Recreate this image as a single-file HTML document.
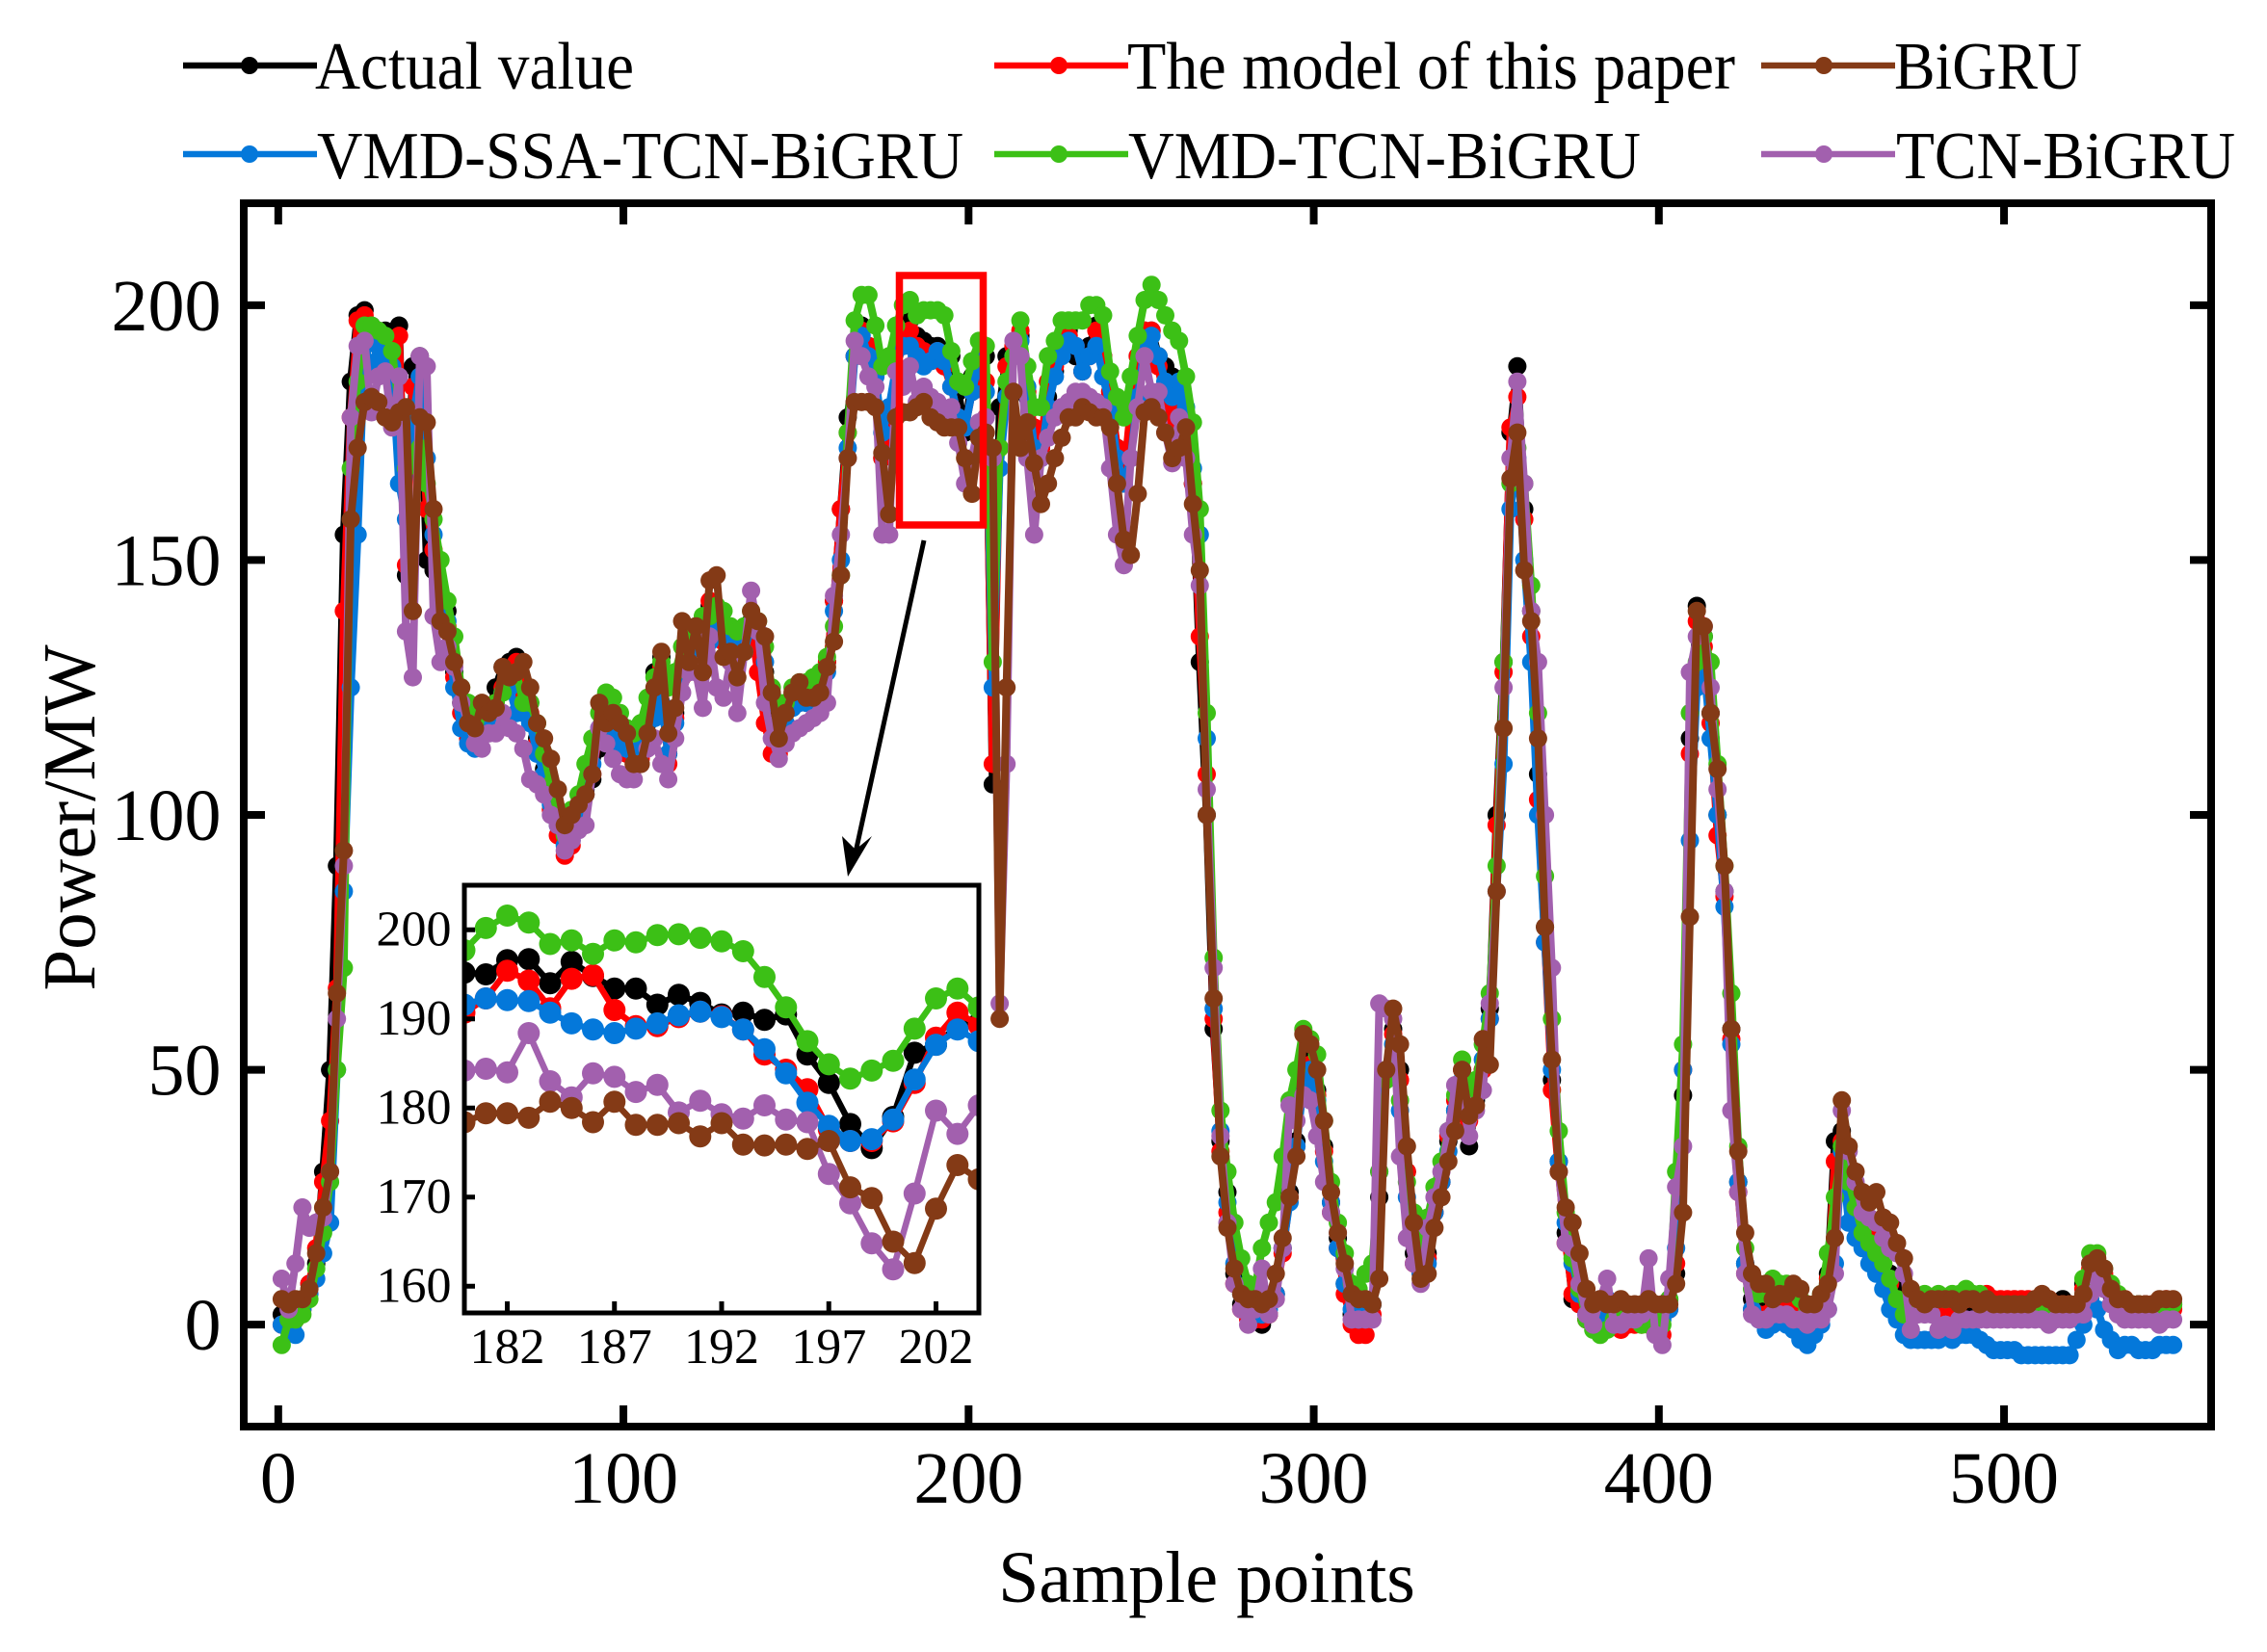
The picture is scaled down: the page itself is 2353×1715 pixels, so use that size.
<!DOCTYPE html>
<html>
<head>
<meta charset="utf-8">
<title>Power forecast comparison chart</title>
<style>
html,body{margin:0;padding:0;background:#fff;width:2353px;height:1715px;overflow:hidden}
svg{display:block}
text{font-family:"Liberation Serif",serif;fill:#000}
.leg{font-size:65px}
</style>
</head>
<body>
<svg id="chart" xmlns="http://www.w3.org/2000/svg" width="2353" height="1715" viewBox="0 0 2353 1715">
  <defs>
    <clipPath id="main-clip"><rect x="253" y="211" width="2042" height="1270"/></clipPath>
    <clipPath id="inset-clip"><rect x="482" y="919" width="534" height="444"/></clipPath>
  </defs>
  <rect x="0" y="0" width="2353" height="1715" fill="#fff"/>
  <g id="main-marks" clip-path="url(#main-clip)"></g>
  <rect x="253" y="211" width="2042" height="1270" fill="none" stroke="#000" stroke-width="8"/>
  <g id="main-axes"></g>
  <text font-size="77" text-anchor="middle" transform="translate(98,849) rotate(-90)">Power/MW</text>
  <text font-size="76" text-anchor="middle" x="1252.5" y="1663">Sample points</text>

  <rect x="933.5" y="286" width="87" height="259" fill="none" stroke="#ff0000" stroke-width="7.5"/>
  <line x1="959" y1="561" x2="888" y2="885" stroke="#000" stroke-width="5"/>
  <polygon points="880,910 874,868 888,882 905,868" fill="#000"/>

  <rect x="482" y="919" width="534" height="444" fill="#fff"/>
  <g id="inset-marks" clip-path="url(#inset-clip)"></g>
  <rect x="482" y="919" width="534" height="444" fill="none" stroke="#000" stroke-width="5"/>
  <g id="inset-axes"></g>

  <g>
    <g>
      <line x1="190" y1="68" x2="329" y2="68" stroke="#000000" stroke-width="6.5"/><circle cx="259" cy="68" r="9" fill="#000000"/>
      <text class="leg" textLength="331" lengthAdjust="spacingAndGlyphs" transform="translate(327,92) scale(1,1.07)">Actual value</text>
    </g>
    <g>
      <line x1="190" y1="160" x2="329" y2="160" stroke="#0478DA" stroke-width="6.5"/><circle cx="259" cy="160" r="9" fill="#0478DA"/>
      <text class="leg" textLength="671" lengthAdjust="spacingAndGlyphs" transform="translate(329,185) scale(1,1.07)">VMD-SSA-TCN-BiGRU</text>
    </g>
    <g>
      <line x1="1032" y1="68" x2="1171" y2="68" stroke="#ff0000" stroke-width="6.5"/><circle cx="1099" cy="68" r="9" fill="#ff0000"/>
      <text class="leg" textLength="631" lengthAdjust="spacingAndGlyphs" transform="translate(1170,92) scale(1,1.07)">The model of this paper</text>
    </g>
    <g>
      <line x1="1032" y1="160" x2="1171" y2="160" stroke="#3CC016" stroke-width="6.5"/><circle cx="1099" cy="160" r="9" fill="#3CC016"/>
      <text class="leg" textLength="532" lengthAdjust="spacingAndGlyphs" transform="translate(1171,185) scale(1,1.07)">VMD-TCN-BiGRU</text>
    </g>
    <g>
      <line x1="1828" y1="68" x2="1967" y2="68" stroke="#843A16" stroke-width="6.5"/><circle cx="1893" cy="68" r="9" fill="#843A16"/>
      <text class="leg" textLength="195" lengthAdjust="spacingAndGlyphs" transform="translate(1966,92) scale(1,1.07)">BiGRU</text>
    </g>
    <g>
      <line x1="1828" y1="160" x2="1967" y2="160" stroke="#A260AE" stroke-width="6.5"/><circle cx="1893" cy="160" r="9" fill="#A260AE"/>
      <text class="leg" textLength="352" lengthAdjust="spacingAndGlyphs" transform="translate(1968,185) scale(1,1.07)">TCN-BiGRU</text>
    </g>
  </g>
</svg>
<script>
// Main chart: readings at samples 1,3,5,...,549
const mainFirstSample = 1;
const mainSampleStep = 2;
const mainXTicks = [0, 100, 200, 300, 400, 500];
const mainYTicks = [0, 50, 100, 150, 200];
const actualValue = [
2,1,2,5,8,12,30,50,90,155,
185,198,199,196,195,195,194,196,147,188,
190,150,148,142,140,128,122,117,116,118,
120,125,129,130,131,125,122,115,109,105,
99,96,97,102,105,107,113,118,118,115,
112,111,112,118,128,131,112,120,127,132,
135,134,141,137,135,134,132,135,138,136,
128,120,117,121,123,123,123,124,126,130,
142,160,178,190,196,192,188,170,172,188,
195,197,194,193,192,192,191,190,183,175,
186,189,190,106,180,190,190,194,182,175,
172,182,187,192,195,190,187,192,196,190,
182,172,165,178,190,195,195,190,188,186,
182,178,165,130,100,58,36,26,10,4,
2,1,0,2,6,15,26,36,50,52,
46,35,24,17,8,2,0,1,4,25,
50,58,50,30,14,11,14,22,28,36,
42,50,35,44,50,62,100,130,175,188,
160,140,108,78,48,32,18,5,4,1,
1,1,2,0,0,1,1,1,1,2,
2,5,10,45,115,141,135,120,100,85,
58,28,12,5,4,3,4,5,4,4,
3,2,3,5,10,36,38,30,25,20,
18,15,13,10,8,4,3,3,3,4,
3,4,3,4,4,4,4,4,4,4,
4,4,4,4,4,4,4,4,5,4,
4,8,12,12,9,6,5,4,4,4,
4,4,4,4,4];
const modelOfThisPaper = [
0,0,1,3,8,15,28,40,66,140,
178,197,198,194,192,188,190,194,149,184,
186,160,152,140,137,127,120,115,114,118,
119,122,125,128,130,124,120,114,107,101,
96,92,94,100,104,108,116,118,117,114,
112,110,111,116,124,129,110,119,127,132,
135,135,142,135,134,133,131,133,137,128,
118,112,112,118,122,122,122,124,126,130,
142,160,175,190,195,192,186,170,175,188,
192,195,192,191,189,191,188,184,178,176,
183,190,185,110,172,188,192,195,183,176,
172,185,188,193,194,192,187,190,195,190,
183,172,166,180,190,195,195,188,180,175,
182,176,165,135,108,60,34,22,8,3,
1,1,1,2,6,14,25,35,48,51,
45,34,22,15,6,0,-2,-2,2,30,
50,57,48,30,12,10,13,22,28,37,
44,50,40,45,50,60,98,128,176,182,
158,135,103,75,46,30,16,6,4,1,
0,0,1,0,-1,0,0,0,0,0,
-2,3,12,50,112,138,133,118,96,84,
56,26,10,3,2,2,3,4,3,3,
2,1,2,4,9,32,36,28,24,19,
17,15,12,8,5,2,2,3,3,4,
3,4,3,4,5,5,5,6,5,5,
5,5,5,5,5,4,5,4,4,4,
4,7,11,12,10,7,5,5,4,4,
4,4,4,5,3];
const vmdSsaTcnBigru = [
0,-1,-2,3,6,9,14,20,50,85,
125,155,192,188,192,190,188,165,158,178,
186,170,155,142,138,125,117,114,113,118,
119,120,124,125,120,120,118,112,108,102,
98,94,95,100,104,110,117,118,116,114,
113,112,113,116,119,122,112,118,128,132,
133,134,134,136,136,135,133,132,137,136,
130,122,118,118,121,122,122,123,124,128,
140,150,172,190,194,190,186,175,180,188,
192,192,190,188,189,191,189,184,178,176,
183,189,183,125,168,182,190,193,184,172,
170,180,186,190,193,192,187,190,192,186,
180,170,165,170,182,192,194,190,185,182,
185,180,168,155,115,62,38,24,12,6,
3,2,2,3,6,15,24,35,47,50,
44,32,24,15,8,3,1,2,4,30,
50,55,42,25,16,10,12,22,28,34,
42,48,42,45,52,60,85,110,160,170,
150,130,100,75,50,32,20,12,6,2,
2,2,5,3,2,2,2,2,2,2,
1,3,15,50,95,125,130,115,100,82,
55,28,12,3,1,-1,0,1,0,-1,
-3,-4,-2,0,3,12,34,20,17,15,
12,10,7,3,1,-2,-3,-3,-3,-3,
-3,-2,-3,-2,-2,-2,-3,-4,-5,-5,
-5,-5,-6,-6,-6,-6,-6,-6,-6,-6,
-3,0,5,3,-1,-3,-5,-4,-4,-5,
-5,-5,-4,-4,-4];
const vmdTcnBigru = [
-4,1,1,2,5,11,18,28,50,70,
168,185,196,196,195,194,191,180,168,170,
172,165,158,150,142,135,125,122,118,120,
121,122,124,127,128,122,122,118,112,106,
100,96,101,104,110,115,120,124,123,120,
117,116,118,123,127,130,125,128,133,136,
137,139,139,141,140,137,136,137,140,138,
133,125,122,122,125,126,126,127,128,131,
137,147,175,197,202,202,196,188,190,196,
200,201,198,199,199,199,198,191,185,184,
189,193,192,130,172,185,190,197,188,180,
180,190,193,197,197,197,197,200,200,198,
187,182,178,186,194,201,204,201,198,195,
193,186,177,160,120,72,42,30,20,13,
8,7,15,20,24,33,44,50,58,56,
53,40,28,20,14,8,7,10,12,30,
48,52,44,28,22,16,21,27,32,38,
45,52,46,48,55,65,90,130,165,172,
165,145,120,88,60,38,22,13,7,1,
-1,-2,-1,1,2,2,1,0,0,3,
0,5,30,55,120,130,135,130,110,90,
65,35,15,7,6,6,9,8,8,7,
5,3,3,6,14,25,35,28,23,18,
16,14,12,9,5,2,2,3,6,5,
6,5,6,6,7,6,6,4,3,2,
2,2,3,3,3,3,4,3,3,3,
4,9,14,14,11,8,6,4,4,4,
3,3,3,4,4];
const tcnBigru = [
9,3,12,23,19,20,21,30,60,90,
178,192,193,179,186,187,176,186,136,127,
190,188,139,130,133,129,122,118,114,113,
116,116,120,117,116,113,107,106,104,100,
98,93,95,97,98,108,117,114,111,108,
107,107,110,113,115,110,107,115,124,128,
128,121,135,125,123,130,120,132,144,136,
122,115,111,114,116,117,118,119,120,122,
143,155,170,193,190,186,184,155,155,187,
184,188,181,184,182,181,179,180,173,165,
170,177,178,170,63,110,193,190,170,155,
170,174,178,180,181,183,183,182,181,180,
168,155,149,170,180,190,183,183,175,169,
178,170,155,145,105,70,37,20,8,3,
0,3,11,2,5,15,43,40,45,44,
37,28,22,18,11,1,1,1,1,63,
62,60,33,17,12,8,19,25,30,38,
47,44,37,42,46,63,85,125,170,185,
165,140,130,100,70,30,16,15,8,2,
0,5,9,0,0,1,1,2,13,-2,
-4,9,27,35,128,135,137,125,105,85,
42,26,10,2,1,1,2,2,2,1,
1,0,1,1,3,10,42,34,28,22,
21,20,17,15,14,10,-1,2,2,2,
-1,0,-1,1,1,1,1,1,1,1,
1,1,1,1,1,1,0,1,1,1,
2,2,6,9,7,4,2,1,1,1,
1,1,0,1,1];
const bigru = [
5,4,5,5,7,14,23,30,65,93,
158,172,181,182,181,178,177,179,180,140,
178,177,160,138,136,130,125,118,117,122,
120,121,129,127,128,130,125,118,115,111,
105,98,100,102,104,108,122,118,120,118,
116,110,110,116,125,132,116,121,138,130,
137,128,146,147,131,132,127,132,140,138,
135,124,115,120,124,126,123,123,124,129,
134,147,170,181,181,181,180,171,159,178,
179,179,180,181,178,177,176,176,176,170,
163,174,175,172,60,125,183,172,177,169,
161,165,170,174,178,178,180,179,178,178,
176,165,154,151,163,179,180,178,175,170,
172,176,161,148,100,64,33,19,11,6,
5,5,4,5,10,17,25,33,57,55,
50,40,26,18,12,6,5,5,4,9,
50,62,55,35,20,9,10,19,25,32,
38,50,41,43,56,51,85,117,166,175,
148,138,115,78,52,30,23,20,14,7,
4,5,4,4,5,4,4,4,5,4,
4,4,8,22,80,140,137,120,109,90,
58,34,18,10,8,8,5,6,6,8,
7,4,4,6,8,17,44,35,30,26,
24,26,21,20,16,13,7,5,4,5,
5,5,5,4,5,5,4,5,4,4,
4,4,4,4,5,6,5,4,4,4,
4,6,12,13,11,7,5,5,4,4,
4,4,5,5,5];

// Inset chart: readings at samples 180..204
const insetFirstSample = 180;
const insetXTicks = [182, 187, 192, 197, 202];
const insetYTicks = [160, 170, 180, 190, 200];
const insetActual = [195.2,195.0,196.6,196.7,194.0,196.4,194.8,193.4,193.4,191.6,192.7,191.8,190.5,190.7,189.9,190.5,186.0,182.8,178.2,175.5,179.0,186.2,187.1,189.2,189.5];
const insetModel = [190.7,192.3,195.4,194.3,191.2,194.5,194.9,191.0,189.2,189.2,190.2,190.8,190.3,188.8,186.0,184.3,182.1,177.6,176.3,176.3,178.5,182.8,187.9,190.7,189.3];
const insetSsa = [191.6,192.3,192.1,192.0,190.7,189.5,188.8,188.4,188.9,189.5,190.4,190.8,190.2,188.8,186.6,183.9,180.6,178.0,176.3,176.5,178.7,183.2,187.1,188.8,187.5];
const insetVmd = [197.7,200.2,201.6,200.8,198.4,198.8,197.3,198.8,198.6,199.4,199.5,199.1,198.7,197.6,194.7,191.3,187.5,184.9,183.3,184.2,185.3,188.9,192.3,193.4,191.3];
const insetTcn = [184.2,184.4,184.0,188.4,183.0,181.2,183.9,183.5,181.8,182.6,179.5,180.8,179.3,178.8,180.3,178.7,178.4,172.6,169.3,164.8,161.9,170.4,179.7,177.1,180.3];
const insetBigru = [178.4,179.4,179.4,178.9,180.7,180.0,178.4,180.7,178.1,178.1,178.3,176.8,178.3,175.9,175.8,175.9,175.4,176.3,171.1,169.9,165.0,162.6,168.7,173.6,172.0];

const seriesNames = ['actual-value', 'model-of-this-paper', 'vmd-ssa-tcn-bigru', 'vmd-tcn-bigru', 'tcn-bigru', 'bigru'];
const seriesColors = ['#000000', '#ff0000', '#0478DA', '#3CC016', '#A260AE', '#843A16'];
const mainSeries = [actualValue, modelOfThisPaper, vmdSsaTcnBigru, vmdTcnBigru, tcnBigru, bigru];
const insetSeries = [insetActual, insetModel, insetSsa, insetVmd, insetTcn, insetBigru];

const NS = 'http://www.w3.org/2000/svg';
function mainX(v) { return 253 + (v + 10) / 570 * 2042; }
function mainY(v) { return 1481 - (v + 20) / 240 * 1270; }
function insetX(v) { return 482 + (v - 180) / 24 * 534; }
function insetY(v) { return 1363 - (v - 157) / 48 * 444; }

function drawSeries(group, list, first, step, xf, yf, r, lw, prefix) {
  list.forEach(function (vals, k) {
    const g = document.createElementNS(NS, 'g');
    
    
    const pts = vals.map(function (v, i) { return xf(first + i * step).toFixed(1) + ',' + yf(v).toFixed(1); }).join(' ');
    const line = document.createElementNS(NS, 'polyline');
    
    
    line.setAttribute('points', pts);
    line.setAttribute('fill', 'none');
    line.setAttribute('stroke', seriesColors[k]);
    line.setAttribute('stroke-width', lw);
    line.setAttribute('stroke-linejoin', 'round');
    g.appendChild(line);
    vals.forEach(function (v, i) {
      const c = document.createElementNS(NS, 'circle');
      
      
      c.setAttribute('cx', xf(first + i * step).toFixed(1));
      c.setAttribute('cy', yf(v).toFixed(1));
      c.setAttribute('r', r);
      c.setAttribute('fill', seriesColors[k]);
      g.appendChild(c);
    });
    group.appendChild(g);
  });
}

function addTick(group, x1, y1, x2, y2, w, name) {
  const t = document.createElementNS(NS, 'line');
  
  
  t.setAttribute('x1', x1);
  t.setAttribute('y1', y1);
  t.setAttribute('x2', x2);
  t.setAttribute('y2', y2);
  t.setAttribute('stroke', '#000');
  t.setAttribute('stroke-width', w);
  group.appendChild(t);
}

function addLabel(group, x, y, size, anchor, str, name) {
  const t = document.createElementNS(NS, 'text');
  
  
  t.setAttribute('x', x);
  t.setAttribute('y', y);
  t.setAttribute('font-size', size);
  t.setAttribute('text-anchor', anchor);
  t.textContent = str;
  group.appendChild(t);
}

const mainMarks = document.getElementById('main-marks');
const insetMarks = document.getElementById('inset-marks');
const mainAxes = document.getElementById('main-axes');
const insetAxes = document.getElementById('inset-axes');

drawSeries(mainMarks, mainSeries, mainFirstSample, mainSampleStep, mainX, mainY, 9.5, 8, 'main');
drawSeries(insetMarks, insetSeries, insetFirstSample, 1, insetX, insetY, 11.5, 6.5, 'inset');

mainXTicks.forEach(function (v) {
  const x = mainX(v);
  addTick(mainAxes, x, 1481, x, 1459, 8, 'x-tick-' + v);
  addTick(mainAxes, x, 211, x, 233, 8, 'x-tick-top-' + v);
  addLabel(mainAxes, x, 1560, 76, 'middle', String(v), 'x-tick-label-' + v);
});
mainYTicks.forEach(function (v) {
  const y = mainY(v);
  addTick(mainAxes, 253, y, 275, y, 8, 'y-tick-' + v);
  addTick(mainAxes, 2295, y, 2273, y, 8, 'y-tick-right-' + v);
  addLabel(mainAxes, 229.5, y + 26, 76, 'end', String(v), 'y-tick-label-' + v);
});
insetXTicks.forEach(function (v) {
  const x = insetX(v);
  addTick(insetAxes, x, 1363, x, 1351, 5, 'inset-x-tick-' + v);
  addLabel(insetAxes, x, 1415, 52, 'middle', String(v), 'inset-x-tick-label-' + v);
});
insetYTicks.forEach(function (v) {
  const y = insetY(v);
  addTick(insetAxes, 482, y, 493, y, 5, 'inset-y-tick-' + v);
  addLabel(insetAxes, 468.5, y + 16, 52, 'end', String(v), 'inset-y-tick-label-' + v);
});
</script>
</body>
</html>
